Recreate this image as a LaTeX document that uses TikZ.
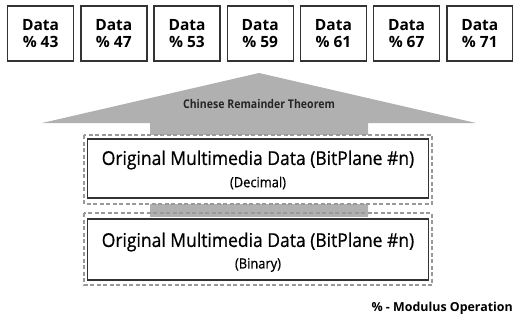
\documentclass[tikz,border=0pt]{standalone}
\usepackage{fontspec}
\setmainfont{Open Sans}
\newfontfamily\condfont[FakeStretch=0.88]{Open Sans}
\newfontfamily\headfont[FakeStretch=0.92,FakeBold=0.6]{Open Sans}
\definecolor{arrowgray}{HTML}{B0B0B0}
\definecolor{framegray}{HTML}{333333}
\begin{document}
\begin{tikzpicture}[x=1pt,y=-1pt,
  modbox/.style={draw=framegray, line width=1.4pt, fill=white, minimum width=66pt,
    minimum height=55pt, inner sep=0pt, align=center, font=\bfseries\fontsize{15.5}{18}\selectfont},
  layerbox/.style={draw=gray!80, dashed, dash pattern=on 4pt off 2.5pt, line width=1.3pt},
  databox/.style={draw=framegray, line width=1.8pt, fill=white},
  maintext/.style={font=\headfont\fontsize{19}{22}\selectfont},
  subtext/.style={font=\headfont\fontsize{14}{16}\selectfont}]
\useasboundingbox (0,0) rectangle (513,324);

% residue blocks along the top
\foreach \m [count=\i from 0] in {43,47,53,59,61,67,71}{
  \node[modbox] (mod\m) at (40.6+73.2*\i,33.5) {Data\\[-1pt]\% \m};
}

% wide upward arrow for the reconstruction step
\fill[arrowgray] (42,123) -- (259,73) -- (476,123) -- (368,123) -- (368,217)
  -- (150,217) -- (150,123) -- cycle;
\node[font=\condfont\bfseries\fontsize{12}{14}\selectfont, text=black!85] (crt) at (259,104) {Chinese Remainder Theorem};

% white grounds of both layers (the arrow shows only between them)
\fill[white] (84,135) rectangle (432,204);
\fill[white] (84,217) rectangle (432,285);

% decimal bit-plane layer
\draw[layerbox] (84,135) rectangle (432,204);
\draw[databox] (87.5,139) rectangle (428.5,198);
\node[maintext] (dec) at (258,160) {Original Multimedia Data (BitPlane \#n)};
\node[subtext] (decsub) at (258,183) {(Decimal)};

% binary bit-plane layer
\draw[layerbox] (84,213) rectangle (432,285);
\draw[databox] (87.5,219) rectangle (428.5,280);
\node[maintext] (bin) at (258,242) {Original Multimedia Data (BitPlane \#n)};
\node[subtext] (binsub) at (258,265) {(Binary)};

% legend
\node[anchor=east, font=\bfseries\fontsize{12.4}{14}\selectfont, inner sep=0pt] (legend) at (513,308) {\% - Modulus Operation};
\end{tikzpicture}
\end{document}
